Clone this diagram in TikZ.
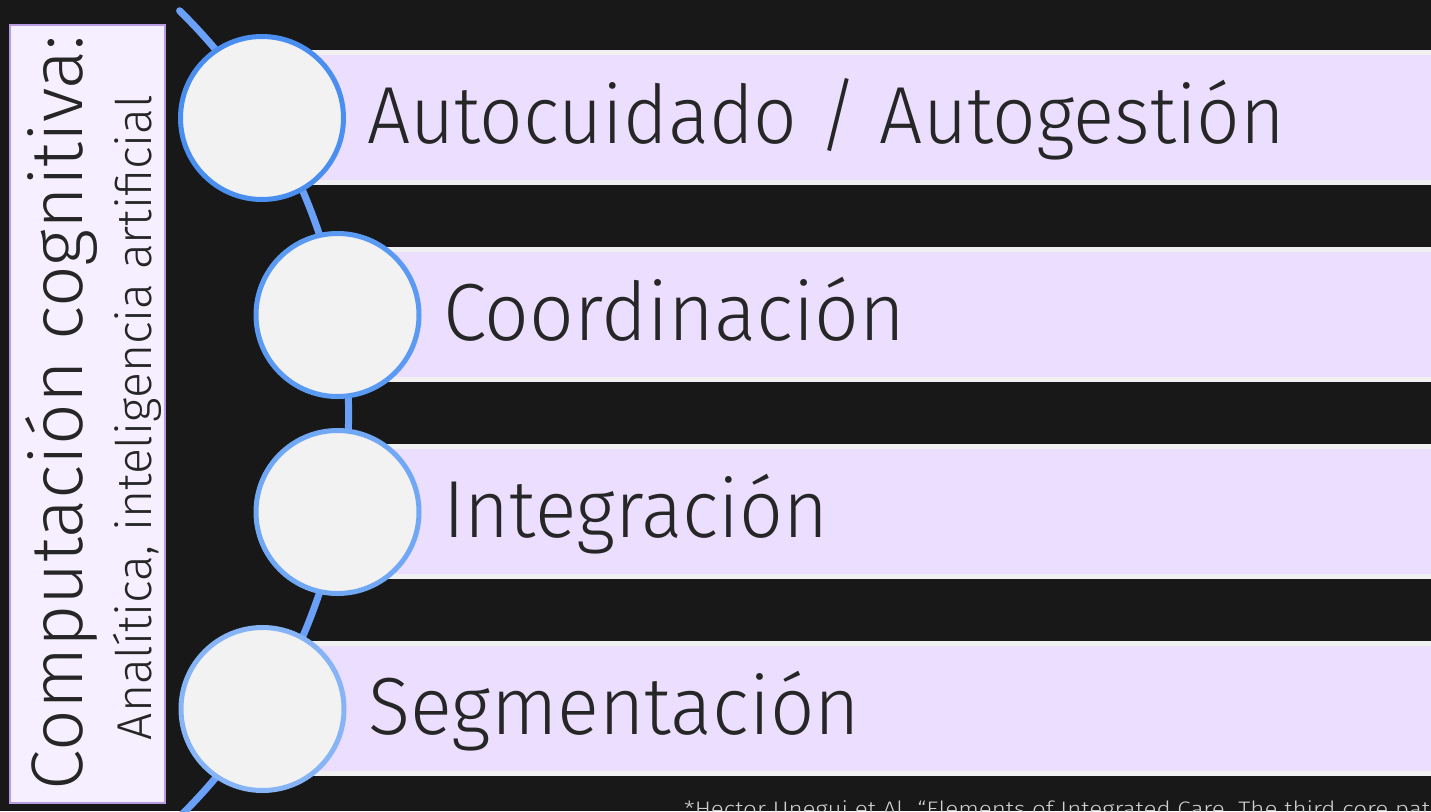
\documentclass[tikz,border=0pt]{standalone}
\usepackage{fontspec}
\IfFontExistsTF{Fira Sans Light}{\setmainfont{Fira Sans Light}}{%
  \IfFontExistsTF{FiraSans-Light.otf}{\setmainfont{FiraSans-Light.otf}}{\setmainfont{Fira Sans}}}
\definecolor{bg}{HTML}{181818}
\definecolor{boxfill}{HTML}{F5EFFF}
\definecolor{boxline}{HTML}{B99BE3}
\definecolor{barfill}{HTML}{EBDEFF}
\definecolor{barline}{HTML}{F0F0F0}
\definecolor{arcblue}{HTML}{6AA0F8}
\definecolor{circfill}{HTML}{F2F2F2}
\definecolor{cA}{HTML}{4A8FF0}
\definecolor{cB}{HTML}{5B9AF2}
\definecolor{cC}{HTML}{70A8F5}
\definecolor{cD}{HTML}{86B4F6}
\definecolor{txt}{HTML}{262626}
\definecolor{foot}{HTML}{D0D0D0}
\newcommand\fitw[2]{\resizebox{#1}{\height}{#2}}
\tikzset{
  barbox/.style={fill=barfill, draw=barline, line width=5pt},
  dot/.style={circle, fill=circfill, line width=5pt, minimum size=163pt, inner sep=0pt},
  bartext/.style={anchor=base west, inner sep=0pt, text=txt, font=\fontsize{81}{86}\selectfont},
  sidetext/.style={anchor=base, inner sep=0pt, text=txt, rotate=90},
}
\begin{document}
\begin{tikzpicture}[x=1pt,y=-1pt]
\useasboundingbox (0,0) rectangle (1431,811);
\clip (0,0) rectangle (1431,811);
\fill[bg] (0,0) rectangle (1431,811);
% left box
\draw[fill=boxfill, draw=boxline, line width=2pt] (10,25) rectangle (165,803);
\node[sidetext, font=\fontsize{73}{78}\selectfont] (t1) at (82,412.5) {\fitw{755pt}{Computación cognitiva:}};
\node[sidetext, font=\fontsize{49}{54}\selectfont] (t2) at (151,417.5) {\fitw{645pt}{Analítica, inteligencia artificial}};
% bars
\draw[barbox] (262,52.5) rectangle (1445,182.5);
\draw[barbox] (337,249.5) rectangle (1445,379.5);
\draw[barbox] (337,446.5) rectangle (1445,576.5);
\draw[barbox] (262,643.5) rectangle (1445,773.5);
% arc
\coordinate (ac) at (-216.4,413.7);
\draw[arcblue, line width=7pt, line cap=round] (ac) ++(-45.5:565) arc[start angle=-45.5, end angle=47, radius=565];
% circles
\node[dot, draw=cA] (c1) at (262,118) {};
\node[dot, draw=cB] (c2) at (337.5,315) {};
\node[dot, draw=cC] (c3) at (337.5,512) {};
\node[dot, draw=cD] (c4) at (262.5,709) {};
% bar texts
\node[bartext] (l1) at (367,143) {\fitw{918pt}{Autocuidado / Autogestión}};
\node[bartext] (l2) at (443,340) {\fitw{462pt}{Coordinación}};
\node[bartext] (l3) at (443,537) {\fitw{385pt}{Integración}};
\node[bartext] (l4) at (368,734) {\fitw{492pt}{Segmentación}};
% footnote
\node[anchor=base west, inner sep=0pt, text=foot, font=\fontsize{21}{24}\selectfont] (fn) at (684,816) {\fitw{760pt}{*Hector Unegui et Al. “Elements of Integrated Care. The third core path}};
\end{tikzpicture}
\end{document}
